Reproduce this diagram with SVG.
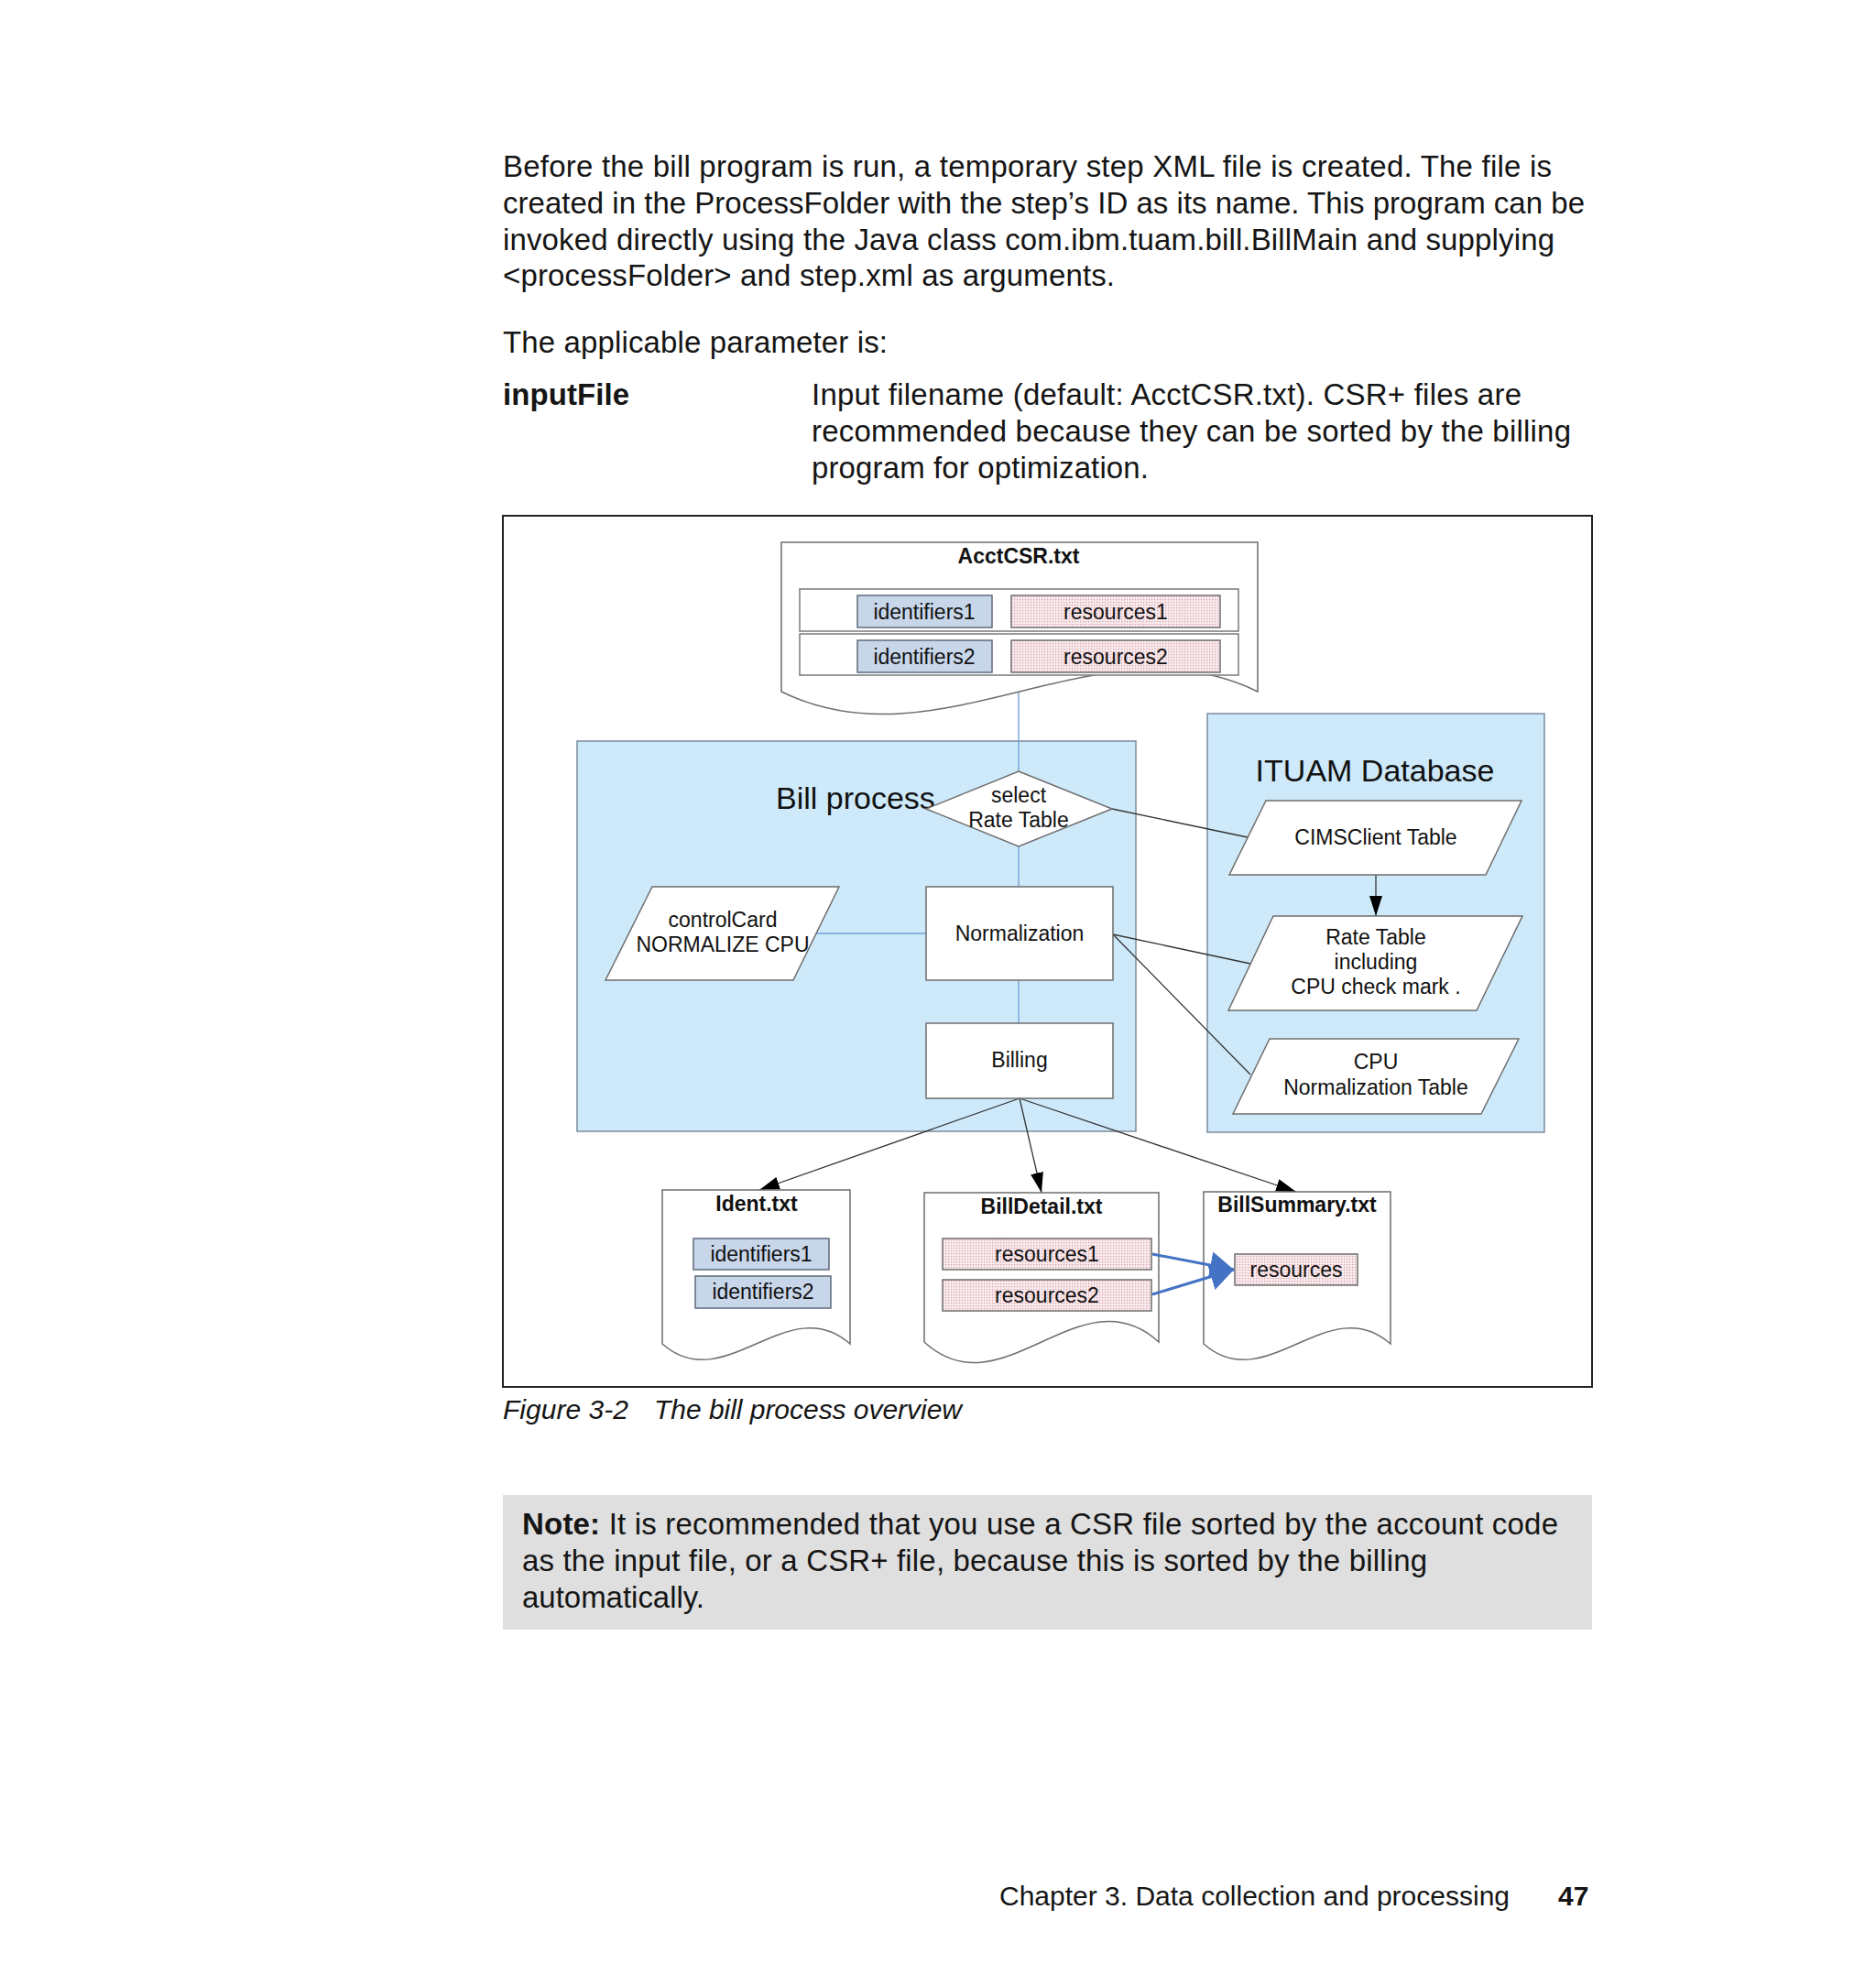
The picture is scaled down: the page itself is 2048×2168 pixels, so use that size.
<svg xmlns="http://www.w3.org/2000/svg" width="2048" height="2168" viewBox="0 0 2048 2168">
<style>
  text { font-family: "Liberation Sans", Arial, sans-serif; }
  .body { font-size: 33px; fill: #151515; }
  .cap { font-size: 30px; fill: #151515; font-style: italic; }
  .foot { font-size: 30px; fill: #151515; }
  .b { font-weight: bold; }
  .lbl { font-size: 23px; fill: #111; text-anchor: middle; }
  .ttl { font-size: 23px; fill: #111; font-weight: bold; text-anchor: middle; }
  .big { font-size: 34px; fill: #111; }
  .grp { fill: #cde9fa; stroke: #7c8c9a; stroke-width: 1.5; }
  .shape { fill: #ffffff; stroke: #6e6e6e; stroke-width: 1.5; }
  .row { fill: #ffffff; stroke: #7a7a7a; stroke-width: 1.5; }
  .idf { fill: #c8d6ea; stroke: #5e6b7c; stroke-width: 1.5; }
  .res { fill: url(#dots); stroke: #6e6e6e; stroke-width: 1.5; }
  .lblue { stroke: #6f9fd3; stroke-width: 1.3; fill: none; }
  .dark { stroke: #333333; stroke-width: 1.3; fill: none; }
  .arr { stroke: #333333; stroke-width: 1.3; fill: none; marker-end: url(#ah); }
  .barr { stroke: #4472c4; stroke-width: 3; fill: none; marker-end: url(#bh); }
</style>
<defs>
  <pattern id="dots" width="3" height="3" patternUnits="userSpaceOnUse">
    <rect width="3" height="3" fill="#f8eaed"/>
    <rect width="1.2" height="1.2" fill="#d99aa4"/>
  </pattern>
  <marker id="ah" viewBox="0 0 22 14" markerWidth="22" markerHeight="14" refX="22" refY="7" orient="auto" markerUnits="userSpaceOnUse">
    <path d="M0,0 L22,7 L0,14 Z" fill="#000"/>
  </marker>
  <marker id="bh" viewBox="0 0 26 30" markerWidth="26" markerHeight="30" refX="26" refY="15" orient="auto" markerUnits="userSpaceOnUse">
    <path d="M0,0 L26,15 L0,30 Z" fill="#4472c4"/>
  </marker>
</defs>
<rect width="2048" height="2168" fill="#ffffff"/>

<g id="page-text">
  <text class="body" x="549" y="193" textLength="1145" lengthAdjust="spacing">Before the bill program is run, a temporary step XML file is created. The file is</text>
  <text class="body" x="549" y="233" textLength="1181" lengthAdjust="spacing">created in the ProcessFolder with the step’s ID as its name. This program can be</text>
  <text class="body" x="549" y="273" textLength="1148" lengthAdjust="spacing">invoked directly using the Java class com.ibm.tuam.bill.BillMain and supplying</text>
  <text class="body" x="549" y="312" textLength="668" lengthAdjust="spacing">&lt;processFolder&gt; and step.xml as arguments.</text>
  <text class="body" x="549" y="385" textLength="420" lengthAdjust="spacing">The applicable parameter is:</text>
  <text class="body b" x="549" y="442" textLength="138" lengthAdjust="spacing">inputFile</text>
  <text class="body" x="886" y="442" textLength="775" lengthAdjust="spacing">Input filename (default: AcctCSR.txt). CSR+ files are</text>
  <text class="body" x="886" y="482" textLength="829" lengthAdjust="spacing">recommended because they can be sorted by the billing</text>
  <text class="body" x="886" y="522" textLength="368" lengthAdjust="spacing">program for optimization.</text>
</g>

<rect id="figure-frame" x="549" y="563" width="1189" height="951" fill="none" stroke="#222" stroke-width="2"/>

<g id="bill-process">
  <rect class="grp" x="630" y="809" width="610" height="426"/>
  <text class="big" x="847" y="883">Bill process</text>
</g>
<g id="ituam-database">
  <rect class="grp" x="1318" y="779" width="368" height="457"/>
  <text class="big" x="1501" y="853" text-anchor="middle">ITUAM Database</text>
</g>

<g id="connectors">
  <line class="lblue" x1="1112" y1="737" x2="1112" y2="842"/>
  <line class="lblue" x1="1112" y1="924" x2="1112" y2="968"/>
  <line class="lblue" x1="1112" y1="1070" x2="1112" y2="1117"/>
  <line class="lblue" x1="891" y1="1019" x2="1011" y2="1019"/>
  <line class="dark" x1="1214" y1="883" x2="1362" y2="914"/>
  <line class="dark" x1="1215" y1="1020" x2="1365" y2="1052"/>
  <line class="dark" x1="1215" y1="1020" x2="1365" y2="1173"/>
  <line class="arr" x1="1502" y1="955" x2="1502" y2="1000"/>
  <line class="arr" x1="1113" y1="1199" x2="829" y2="1299"/>
  <line class="arr" x1="1113" y1="1199" x2="1137" y2="1302"/>
  <line class="arr" x1="1113" y1="1199" x2="1415" y2="1301"/>
</g>

<g id="acctcsr">
  <path class="shape" d="M853,592 H1373 V755 C1200,670 1026,840 853,755 Z"/>
  <text class="ttl" x="1112" y="615">AcctCSR.txt</text>
  <rect class="row" x="873" y="643" width="479" height="46"/>
  <rect class="row" x="873" y="692" width="479" height="45"/>
  <rect class="idf" x="936" y="650" width="147" height="35"/>
  <rect class="res" x="1104" y="650" width="228" height="35"/>
  <rect class="idf" x="936" y="699" width="147" height="35"/>
  <rect class="res" x="1104" y="699" width="228" height="35"/>
  <text class="lbl" x="1009" y="676">identifiers1</text>
  <text class="lbl" x="1218" y="676">resources1</text>
  <text class="lbl" x="1009" y="725">identifiers2</text>
  <text class="lbl" x="1218" y="725">resources2</text>
</g>

<g id="select-rate-table">
  <polygon class="shape" points="1112,842 1214,883 1112,924 1011,883"/>
  <text class="lbl" x="1112" y="876">select</text>
  <text class="lbl" x="1112" y="903">Rate Table</text>
</g>

<g id="normalization">
  <rect class="shape" x="1011" y="968" width="204" height="102"/>
  <text class="lbl" x="1113" y="1027">Normalization</text>
</g>

<g id="billing">
  <rect class="shape" x="1011" y="1117" width="204" height="82"/>
  <text class="lbl" x="1113" y="1165">Billing</text>
</g>

<g id="control-card">
  <polygon class="shape" points="712,968 916,968 866,1070 661,1070"/>
  <text class="lbl" x="789" y="1012">controlCard</text>
  <text class="lbl" x="789" y="1039">NORMALIZE CPU</text>
</g>

<g id="cimsclient-table">
  <polygon class="shape" points="1382,874 1661,874 1622,955 1342,955"/>
  <text class="lbl" x="1502" y="922">CIMSClient Table</text>
</g>

<g id="rate-table">
  <polygon class="shape" points="1390,1000 1662,1000 1612,1103 1341,1103"/>
  <text class="lbl" x="1502" y="1031">Rate Table</text>
  <text class="lbl" x="1502" y="1058">including</text>
  <text class="lbl" x="1502" y="1085">CPU check mark .</text>
</g>

<g id="cpu-normalization-table">
  <polygon class="shape" points="1386,1134 1658,1134 1617,1216 1346,1216"/>
  <text class="lbl" x="1502" y="1167">CPU</text>
  <text class="lbl" x="1502" y="1195">Normalization Table</text>
</g>

<g id="ident-txt">
  <path class="shape" d="M723,1299 H928 V1467 C860,1407 791,1527 723,1467 Z"/>
  <text class="ttl" x="826" y="1322">Ident.txt</text>
  <rect class="idf" x="757" y="1352" width="148" height="34"/>
  <rect class="idf" x="759" y="1393" width="148" height="35"/>
  <text class="lbl" x="831" y="1377">identifiers1</text>
  <text class="lbl" x="833" y="1418">identifiers2</text>
</g>

<g id="billdetail-txt">
  <path class="shape" d="M1009,1302 H1265 V1465 C1180,1387 1094,1543 1009,1465 Z"/>
  <text class="ttl" x="1137" y="1325">BillDetail.txt</text>
  <rect class="res" x="1029" y="1352" width="228" height="34"/>
  <rect class="res" x="1029" y="1397" width="228" height="34"/>
  <text class="lbl" x="1143" y="1377">resources1</text>
  <text class="lbl" x="1143" y="1422">resources2</text>
</g>

<g id="billsummary-txt">
  <path class="shape" d="M1314,1301 H1518 V1467 C1450,1407 1382,1527 1314,1467 Z"/>
  <text class="ttl" x="1416" y="1323">BillSummary.txt</text>
  <rect class="res" x="1348" y="1369" width="134" height="34"/>
  <text class="lbl" x="1415" y="1394">resources</text>
</g>

<g id="resource-connectors">
  <line class="barr" x1="1258" y1="1369" x2="1347" y2="1386"/>
  <line class="barr" x1="1258" y1="1413" x2="1347" y2="1386"/>
</g>

<g id="caption-and-note">
  <text class="cap" x="549" y="1549" textLength="137" lengthAdjust="spacing">Figure 3-2</text>
  <text class="cap" x="714" y="1549" textLength="336" lengthAdjust="spacing">The bill process overview</text>
  <rect x="549" y="1632" width="1189" height="147" fill="#dfdfdf"/>
  <text class="body" x="570" y="1675" textLength="1131" lengthAdjust="spacing"><tspan class="b">Note:</tspan> It is recommended that you use a CSR file sorted by the account code</text>
  <text class="body" x="570" y="1715" textLength="988" lengthAdjust="spacing">as the input file, or a CSR+ file, because this is sorted by the billing</text>
  <text class="body" x="570" y="1755" textLength="199" lengthAdjust="spacing">automatically.</text>
  <text class="foot" x="1091" y="2080" textLength="557" lengthAdjust="spacing">Chapter 3. Data collection and processing</text>
  <text class="foot b" x="1701" y="2080">47</text>
</g>
</svg>
